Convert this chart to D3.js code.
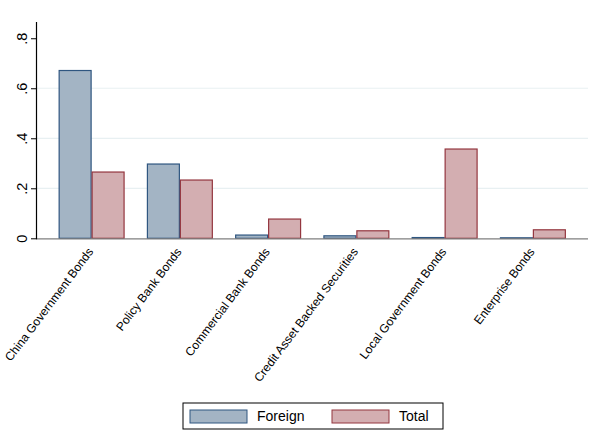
<!DOCTYPE html>
<html>
<head>
<meta charset="utf-8">
<script src="https://cdn.jsdelivr.net/npm/d3@7"></script>
<style>
  body { margin: 0; background: #fff; }
  svg { display: block; font-family: "Liberation Sans", Arial, sans-serif; }
</style>
</head>
<body>
<div class="svg"></div>
<script>
// bond categories and shares
var categories = ["China Government Bonds", "Policy Bank Bonds", "Commercial Bank Bonds",
    "Credit Asset Backed Securities", "Local Government Bonds", "Enterprise Bonds"];
var foreign = [0.671, 0.297, 0.013, 0.010, 0.003, 0.002];
var total = [0.265, 0.233, 0.077, 0.030, 0.357, 0.034];
var seriesNames = ["Foreign", "Total"];
var yTicks = [0, 0.2, 0.4, 0.6, 0.8];
var yTickLabels = ["0", ".2", ".4", ".6", ".8"];

var width = 601, height = 432;
var plotLeft = 36.5, plotRight = 588, plotTop = 22, plotBottom = 238.3;

var svg = d3.select('div.svg')
    .append('svg')
    .attr('width', width)
    .attr('height', height)

var y = d3.scaleLinear()
    .domain([0, 0.865])
    .range([plotBottom, plotTop])

var x = d3.scaleBand()
    .domain(categories)
    .range([plotLeft, plotRight])
    .paddingInner(0.253)
    .paddingOuter(0.251)

var x1 = d3.scaleBand()
    .domain(seriesNames)
    .range([0, x.bandwidth()])

var fills = { Foreign: '#a3b4c4', Total: '#d3aeb1' };
var strokes = { Foreign: '#2f5680', Total: '#94363f' };

// grid lines
svg.append('g').selectAll('line')
    .data(yTicks.filter(d => d > 0 && d < 0.8))
    .enter()
    .append('line')
    .attr('x1', plotLeft)
    .attr('x2', plotRight)
    .attr('y1', d => y(d))
    .attr('y2', d => y(d))
    .attr('stroke', '#e8f0f2')
    .attr('stroke-width', 1.2)

// bars
var rows = categories.map((c, i) => ({ cat: c, values: [foreign[i], total[i]] }));
var groups = svg.append('g').selectAll('g')
    .data(rows)
    .enter()
    .append('g')
    .attr('transform', d => 'translate(' + x(d.cat) + ',0)')

groups.selectAll('rect')
    .data(d => d.values.map((v, j) => ({ name: seriesNames[j], value: v })))
    .enter()
    .append('rect')
    .attr('x', d => x1(d.name) + 0.5)
    .attr('y', d => y(d.value))
    .attr('width', x1.bandwidth() - 1)
    .attr('height', d => plotBottom - y(d.value))
    .attr('fill', d => fills[d.name])
    .attr('stroke', d => strokes[d.name])
    .attr('stroke-width', 1.2)

// x axis line
svg.append('line')
    .attr('x1', plotLeft)
    .attr('x2', plotRight)
    .attr('y1', plotBottom + 0.5)
    .attr('y2', plotBottom + 0.5)
    .attr('stroke', '#7f7f7f')
    .attr('stroke-width', 1.3)

// y axis
var yAxis = d3.axisLeft(y)
    .tickValues(yTicks)
    .tickFormat((d, i) => yTickLabels[i])
    .tickSize(5.5)
    .tickSizeOuter(0)

var ya = svg.append('g')
    .attr('transform', 'translate(' + plotLeft + ',0)')
    .call(yAxis)
ya.attr('font-family', null).attr('font-size', null)
ya.select('.domain').attr('d', 'M0,' + plotTop + 'V' + (plotBottom + 1)).attr('stroke', '#000').attr('stroke-width', 1.2)
ya.selectAll('.tick line').attr('stroke', '#000')
ya.selectAll('.tick text')
    .attr('x', null)
    .attr('text-anchor', 'middle')
    .attr('transform', 'translate(-15,0) rotate(-90)')
    .attr('dy', '0.35em')
    .attr('font-size', 14.5)
    .attr('fill', '#000')

// category labels, rotated
svg.append('g').selectAll('text')
    .data(categories)
    .enter()
    .append('text')
    .attr('transform', d => 'translate(' + (x(d) + x.bandwidth() / 2 - 1) + ',' + (plotBottom + 11) + ') rotate(-53)')
    .attr('text-anchor', 'end')
    .attr('dy', '0.35em')
    .attr('font-size', 12)
    .text(d => d)

// legend
var legend = svg.append('g').attr('transform', 'translate(183,403)')
legend.append('rect')
    .attr('width', 260)
    .attr('height', 26)
    .attr('fill', '#fff')
    .attr('stroke', '#000')
    .attr('stroke-width', 1)

var items = legend.selectAll('g.item')
    .data(seriesNames)
    .enter()
    .append('g')
    .attr('transform', (d, i) => 'translate(' + (7 + i * 142) + ',0)')
items.append('rect')
    .attr('y', 7)
    .attr('width', 57)
    .attr('height', 13)
    .attr('fill', d => fills[d])
    .attr('stroke', d => strokes[d])
    .attr('stroke-width', 1)
items.append('text')
    .attr('x', 67)
    .attr('y', 13.5)
    .attr('dy', '0.35em')
    .attr('font-size', 14)
    .text(d => d)
</script>
</body>
</html>
